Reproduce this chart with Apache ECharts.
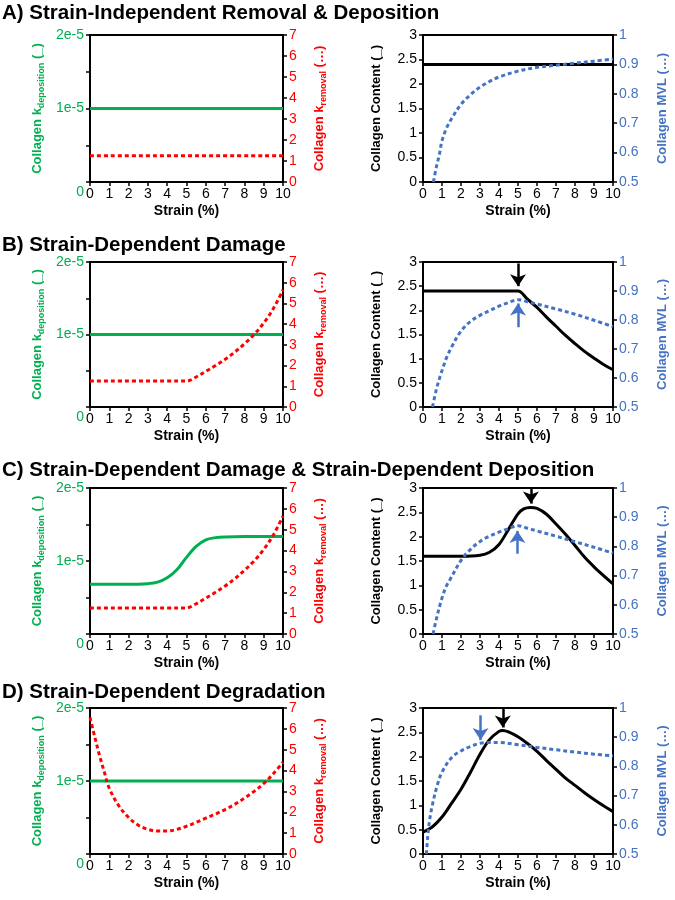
<!DOCTYPE html>
<html><head><meta charset="utf-8">
<script src="https://cdn.jsdelivr.net/npm/echarts@6/dist/echarts.min.js"></script>
<style>html,body{margin:0;padding:0;background:#fff}#c{width:675px;height:900px}</style>
</head><body><div id="c"></div>
<script>
// ---------- DATA ----------
const titles = ['A) Strain-Independent Removal & Deposition','B) Strain-Dependent Damage','C) Strain-Dependent Damage & Strain-Dependent Deposition','D) Strain-Dependent Degradation'];
const strainTicks = [0,1,2,3,4,5,6,7,8,9,10];
const contentTicks = [0,0.5,1,1.5,2,2.5,3];
const mvlTicks = [0.5,0.6,0.7,0.8,0.9,1];
const removalTicks = [0,1,2,3,4,5,6,7];
const depositionTickLabels = ['0','1e-5','2e-5'];

// Panel A
const depA_x = [0,10], depA = [1e-5,1e-5];
const remA_x = [0,10], remA = [1.25,1.25];
const contA_x = [0,10], contA = [2.4,2.4];
const mvlA_x = [0.55,0.7,0.85,1,1.25,1.5,2,2.5,3,3.5,4,5,6,7,8,9,10];
const mvlA   = [0.5,0.55,0.59,0.64,0.685,0.715,0.764,0.797,0.823,0.842,0.857,0.877,0.89,0.897,0.904,0.911,0.918];
// Panel B
const depB_x = [0,10], depB = [1e-5,1e-5];
const remB_x = [0,4.5,5,5.5,6,6.5,7,7.5,8,8.5,9,9.5,10];
const remB   = [1.25,1.25,1.25,1.45,1.72,2.0,2.3,2.65,3.05,3.5,4.05,4.75,5.65];
const contB_x = [0,4.5,5,5.5,6,6.5,7,7.5,8,8.5,9,9.5,10];
const contB   = [2.4,2.4,2.4,2.23,2.06,1.86,1.67,1.48,1.31,1.15,1.01,0.88,0.77];
const mvlB_x = [0.5,0.7,0.9,1.1,1.25,1.5,2,2.5,3,3.5,4,4.5,5,5.5,6,7,8,9,10];
const mvlB   = [0.5,0.56,0.605,0.645,0.672,0.706,0.762,0.795,0.816,0.832,0.848,0.86,0.87,0.863,0.855,0.838,0.82,0.799,0.777];
// Panel C
const depC_x = [0,1,2,3,3.5,4,4.5,5,5.5,6,6.5,7,8,10];
const depC   = [0.68e-5,0.68e-5,0.68e-5,0.69e-5,0.71e-5,0.77e-5,0.88e-5,1.05e-5,1.2e-5,1.29e-5,1.32e-5,1.33e-5,1.335e-5,1.335e-5];
const remC_x = [0,4.5,5,5.5,6,6.5,7,7.5,8,8.5,9,9.5,10];
const remC   = [1.25,1.25,1.25,1.45,1.72,2.0,2.3,2.65,3.05,3.5,4.05,4.75,5.65];
const contC_x = [0,1,2,3,3.5,4,4.5,5,5.3,5.65,6,6.5,7,7.5,8,8.5,9,9.5,10];
const contC   = [1.6,1.6,1.6,1.62,1.68,1.84,2.15,2.47,2.57,2.6,2.58,2.46,2.26,2.05,1.82,1.58,1.38,1.2,1.03];
const mvlC_x = [0.53,0.7,0.97,1.2,1.41,2.02,2.5,3,3.5,4,4.5,5,5.5,6,7,8,9,10];
const mvlC   = [0.5,0.55,0.617,0.66,0.685,0.754,0.79,0.817,0.835,0.849,0.861,0.871,0.862,0.853,0.835,0.816,0.797,0.777];
// Panel D
const depD_x = [0,10], depD = [1e-5,1e-5];
const remD_x = [0,0.25,0.5,0.75,1,1.5,2,2.5,3,3.5,4,4.5,5,5.5,6,6.5,7,7.5,8,8.5,9,9.5,10];
const remD   = [6.55,5.6,4.7,3.9,3.15,2.3,1.75,1.38,1.18,1.1,1.1,1.18,1.33,1.52,1.72,1.92,2.13,2.38,2.68,3.0,3.38,3.85,4.4];
const contD_x = [0,0.5,1,1.5,2,2.5,3,3.5,4,4.2,4.5,5,5.5,6,6.5,7,7.5,8,8.5,9,9.5,10];
const contD   = [0.45,0.56,0.76,1.04,1.33,1.68,2.05,2.35,2.52,2.54,2.51,2.41,2.27,2.11,1.92,1.74,1.56,1.41,1.26,1.12,0.99,0.87];
const mvlD_x = [0.18,0.25,0.35,0.5,0.75,1,1.5,2,2.5,3,3.5,4,5,6,7,8,9,10];
const mvlD   = [0.5,0.56,0.617,0.67,0.735,0.78,0.83,0.853,0.868,0.879,0.882,0.882,0.874,0.865,0.857,0.849,0.842,0.836];
// Arrows: [x, yStart, yEnd]
const arrowsContent = [null, [5,2.97,2.5], [5.68,3.0,2.68], [4.2,3.0,2.6]];
const arrowsMVL     = [null, [5,0.775,0.857], [4.97,0.775,0.853], [3.03,0.975,0.89]];

// ---------- BUILD ----------
const GREEN='#00b050', RED='#ff0000', BLUE='#4472c4', BLACK='#000';
const FONT='Liberation Sans, Arial, sans-serif';
const LBL=14;
const zip=(xs,ys)=>xs.map((x,i)=>[x,ys[i]]);
const rows=[
 {top:35,h:147,tt:3,dep:[depA_x,depA],rem:[remA_x,remA],cont:[contA_x,contA],mvl:[mvlA_x,mvlA]},
 {top:262,h:145,tt:235,dep:[depB_x,depB],rem:[remB_x,remB],cont:[contB_x,contB],mvl:[mvlB_x,mvlB]},
 {top:488,h:146,tt:460,dep:[depC_x,depC],rem:[remC_x,remC],cont:[contC_x,contC],mvl:[mvlC_x,mvlC]},
 {top:708,h:146,tt:682,dep:[depD_x,depD],rem:[remD_x,remD],cont:[contD_x,contD],mvl:[mvlD_x,mvlD]}
];
const grid=[],xAxis=[],yAxis=[],series=[],title=[];
const axLine={show:true,lineStyle:{color:BLACK,width:2}};
const axTick={show:true,inside:false,length:4,lineStyle:{color:BLACK,width:1.5}};
function xAx(gi){
  return {type:'value',gridIndex:gi,min:0,max:10,interval:1,axisLine:axLine,axisTick:axTick,splitLine:{show:false},
    axisLabel:{color:BLACK,fontSize:LBL,fontFamily:FONT,margin:5,formatter:v=>String(strainTicks[Math.round(v)])},
    name:'Strain (%)',nameLocation:'middle',nameGap:22,nameTextStyle:{color:BLACK,fontSize:14,fontWeight:'bold',fontFamily:FONT}};
}
function subName(main,sub,tail,color){
  return {name:'{a|'+main+'}{s|'+sub+'}{a|'+tail+'}',
   style:{color:color,fontFamily:FONT,rich:{
     a:{fontSize:13,fontWeight:'bold',color:color,fontFamily:FONT,lineHeight:18},
     s:{fontSize:9,fontWeight:'bold',color:color,fontFamily:FONT,lineHeight:9,verticalAlign:'bottom'}}}};
}
rows.forEach((r,i)=>{
  const gL=grid.length;
  grid.push({left:90,width:193,top:r.top,height:r.h,show:true,borderColor:BLACK,borderWidth:2,containLabel:false});
  grid.push({left:423,width:190,top:r.top,height:r.h,show:true,borderColor:BLACK,borderWidth:2,containLabel:false});
  title.push({text:titles[i],left:2,top:r.tt,padding:0,textStyle:{fontSize:20.5,fontWeight:'bold',color:BLACK,fontFamily:FONT}});
  xAxis.push(xAx(gL)); xAxis.push(xAx(gL+1));
  const dn=subName('Collagen k','deposition',' (_)',GREEN);
  const rn=subName('Collagen k','removal',' (…)',RED);
  const yi=yAxis.length;
  yAxis.push({type:'value',gridIndex:gL,position:'left',min:0,max:2e-5,interval:5e-6,axisLine:axLine,axisTick:axTick,splitLine:{show:false},
    axisLabel:{color:GREEN,fontSize:LBL,fontFamily:FONT,margin:6,
      formatter:v=>{const k=Math.round(v/5e-6); if(k===0) return '{z|'+depositionTickLabels[0]+'}'; if(k===2) return depositionTickLabels[1]; if(k===4) return depositionTickLabels[2]; return '';},
      rich:{z:{color:GREEN,fontSize:LBL,fontFamily:FONT,padding:[20,0,0,0]}}},
    name:dn.name,nameLocation:'middle',nameGap:44,nameRotate:90,nameTextStyle:dn.style});
  yAxis.push({type:'value',gridIndex:gL,position:'right',min:0,max:7,interval:1,axisLine:axLine,axisTick:axTick,splitLine:{show:false},
    axisLabel:{color:RED,fontSize:LBL,fontFamily:FONT,margin:6,formatter:v=>String(removalTicks[Math.round(v)])},
    name:rn.name,nameLocation:'middle',nameGap:27,nameRotate:90,nameTextStyle:rn.style});
  yAxis.push({type:'value',gridIndex:gL+1,position:'left',min:0,max:3,interval:0.5,axisLine:axLine,axisTick:axTick,splitLine:{show:false},
    axisLabel:{color:BLACK,fontSize:LBL,fontFamily:FONT,margin:6,formatter:v=>String(contentTicks[Math.round(v*2)])},
    name:'Collagen Content (_)',nameLocation:'middle',nameGap:40,nameRotate:90,nameTextStyle:{color:BLACK,fontSize:13,fontWeight:'bold',fontFamily:FONT}});
  yAxis.push({type:'value',gridIndex:gL+1,position:'right',min:0.5,max:1,interval:0.1,axisLine:axLine,axisTick:axTick,splitLine:{show:false},
    axisLabel:{color:BLUE,fontSize:LBL,fontFamily:FONT,margin:6,formatter:v=>String(mvlTicks[Math.round((v-0.5)*10)])},
    name:'Collagen MVL (…)',nameLocation:'middle',nameGap:43,nameRotate:90,nameTextStyle:{color:BLUE,fontSize:13,fontWeight:'bold',fontFamily:FONT}});
  const ln=(xi,yI,data,color,dashed,z)=>({type:'line',xAxisIndex:xi,yAxisIndex:yI,data:data,symbol:'none',smooth:0.35,clip:false,z:z,
      lineStyle:{color:color,width:3,type:dashed?[4,3]:'solid'}});
  series.push(ln(gL,yi,zip(r.dep[0],r.dep[1]),GREEN,false,2));
  series.push(ln(gL,yi+1,zip(r.rem[0],r.rem[1]),RED,true,3));
  const cs=ln(gL+1,yi+2,zip(r.cont[0],r.cont[1]),BLACK,false,2);
  const ms=ln(gL+1,yi+3,zip(r.mvl[0],r.mvl[1]),BLUE,true,3);
  const mk=(a,color)=>({silent:true,symbol:['none','arrow'],symbolSize:[12,12],label:{show:false},
      lineStyle:{color:color,width:2.5,type:'solid'},
      data:[[{coord:[a[0],a[1]]},{coord:[a[0],a[2]]}]]});
  if(arrowsContent[i]) cs.markLine=mk(arrowsContent[i],BLACK);
  if(arrowsMVL[i]) ms.markLine=mk(arrowsMVL[i],BLUE);
  series.push(cs); series.push(ms);
});
const chart=echarts.init(document.getElementById('c'),null,{renderer:'canvas'});
chart.setOption({animation:false,backgroundColor:'#fff',title,grid,xAxis,yAxis,series});
</script></body></html>
